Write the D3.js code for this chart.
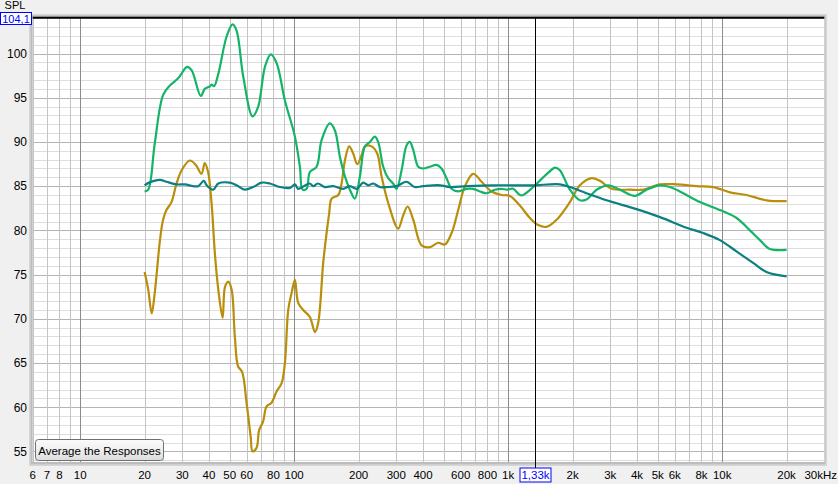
<!DOCTYPE html>
<html><head><meta charset="utf-8">
<script src="https://cdn.jsdelivr.net/npm/d3@7"></script>
<style>
html,body{margin:0;padding:0;background:#f0f0f0;}
svg{display:block;font-family:"Liberation Sans",Arial,sans-serif;}
</style></head>
<body>
<svg id="chart" width="838" height="484"></svg>
<script>
// ---------- DATA ----------
const xTickValues = [6,7,8,10,20,30,40,50,60,80,100,200,300,400,600,800,1000,2000,3000,4000,5000,6000,8000,10000,20000,30000];
const xTickLabels = ["6","7","8","10","20","30","40","50","60","80","100","200","300","400","600","800","1k","2k","3k","4k","5k","6k","8k","10k","20k","30kHz"];
const yTickValues = [55,60,65,70,75,80,85,90,95,100];
const cursorFreq = 1330, cursorFreqLabel = "1,33k";
const cursorSpl = 104.1, cursorSplLabel = "104,1";
const yTitle = "SPL";
const buttonLabel = "Average the Responses";

const tealResponse = [[20,85.1],[21,85.4],[23.6,85.7],[25.3,85.5],[28.2,85.2],[30.9,85.2],[33.7,85.0],[35.6,85.0],[37.8,85.6],[39,85.1],[41.8,84.6],[44.2,85.3],[50,85.4],[53.8,85.1],[58.8,84.6],[64.3,84.9],[70.4,85.4],[77,85.3],[85.7,84.9],[95.5,84.8],[100.8,85.2],[104.4,84.7],[118,85.3],[123,85.0],[129,85.3],[139,84.9],[152,85.0],[169,84.7],[182,85.0],[196,84.7],[210,85.4],[222,85.1],[234,85.3],[251,84.9],[270,84.9],[301,85.0],[335,85.5],[366,84.9],[400,85.0],[480,85.1],[534,84.9],[640,85.0],[850,85.1],[1055,85.1],[1310,85.1],[1745,85.2],[1940,84.9],[2320,84.2],[2880,83.4],[3980,82.4],[5120,81.5],[6820,80.3],[8150,79.7],[9750,78.9],[11700,77.6],[14000,76.3],[16100,75.3],[20000,74.8]];

const greenResponse = [[20,84.4],[20.8,84.6],[22.3,89.8],[24.4,95.3],[26.3,96.4],[28.7,97.2],[31.6,98.5],[33.2,98.1],[36.6,95.2],[38.2,96.0],[40.4,96.3],[41.1,96.5],[42.2,96.3],[44.2,97.7],[48.3,101.9],[51.5,103.3],[53.8,102.6],[57.8,97.4],[63.9,92.9],[67.9,94.0],[73,98.5],[77.8,99.9],[82.8,98.9],[90.5,94.7],[100.8,90.6],[106.3,87.2],[109.5,84.6],[114.3,84.7],[118.4,86.6],[127.3,87.2],[134.3,90.2],[146.9,92.1],[155,91.3],[163.6,88.3],[172.6,86.1],[182.1,84.6],[192.1,83.6],[202.8,86.1],[214,89.5],[225.8,90.0],[238.3,90.6],[246.9,90.0],[260.6,87.2],[275,85.9],[290,85.3],[301,84.7],[317.6,86.8],[335,89.6],[347,90.0],[360,89.1],[380,87.2],[400,87.0],[430,87.2],[463,87.4],[488,87.0],[515,85.9],[544,84.7],[584,84.4],[639,84.7],[686,84.7],[738,84.4],[792,84.2],[867,84.6],[932,84.7],[983,84.6],[1055,84.7],[1134,84.0],[1175,84.0],[1309,84.9],[1457,86.0],[1623,87.0],[1653,87.1],[1744,86.8],[1942,84.6],[2163,83.4],[2324,83.5],[2589,84.6],[2934,85.1],[3327,84.6],[3909,83.9],[4435,84.6],[5116,85.1],[5696,84.9],[6573,84.2],[7867,83.2],[9755,82.3],[11680,81.4],[13470,80.0],[15010,78.9],[16710,77.9],[20000,77.8]];

const goldResponse = [[20,75.3],[20.8,73.3],[21.6,70.6],[22.3,72.9],[23.6,78.9],[24.4,81.2],[25.3,82.3],[26.7,83.2],[28.2,85.3],[29.8,86.8],[32.5,87.9],[34.7,87.4],[36.9,86.4],[38.2,87.6],[39.6,86.6],[41.1,83.1],[42.6,77.4],[44.2,73.3],[46.3,70.1],[47.5,73.6],[49.2,74.2],[51,73.3],[52.8,68.0],[54.7,64.6],[57.1,64.0],[59.9,60.5],[62.6,56.7],[63.9,55.0],[66.7,55.4],[68.6,57.4],[71.6,58.4],[74.3,60.1],[78.4,60.5],[82.8,61.8],[87.3,62.7],[90.5,65.0],[93.8,71.0],[97.2,72.9],[100.8,74.4],[104.4,71.8],[110.2,71.0],[118.4,70.2],[125,68.5],[129.4,69.5],[136.6,76.3],[141.7,79.7],[145.7,81.9],[149.6,83.6],[160.6,84.0],[166.5,85.3],[172.6,87.9],[180.7,89.5],[188.7,88.7],[197,87.5],[206.5,88.5],[214,89.5],[230,89.5],[244.3,88.7],[256.1,86.1],[275,83.1],[306,80.2],[323,81.7],[339,82.7],[360,81.2],[394,78.3],[431,78.1],[471,78.6],[506,78.4],[544,79.7],[584,82.3],[628,85.0],[686,86.4],[751,85.5],[837,84.4],[932,84.0],[1019,83.9],[1134,82.8],[1263,81.4],[1381,80.6],[1512,80.4],[1684,81.2],[1942,83.2],[2163,85.1],[2453,85.9],[2683,85.6],[3043,84.7],[3705,84.6],[4274,84.6],[5116,85.2],[6122,85.2],[7593,85.0],[9078,84.9],[10860,84.3],[13000,84.0],[16130,83.4],[20000,83.3]];

// ---------- LAYOUT ----------
const L = 32.7, R = 824.3, T = 17.3, B = 462;
const svg = d3.select("#chart");
const x = d3.scaleLog().domain([6, 30000]).range([L, R]);
const y = d3.scaleLinear().domain([53.8, 104.1]).range([B, T]);

// background
svg.append("rect").attr("width",838).attr("height",484).attr("fill","#f0f0f0");
// sunken frame shadow
svg.append("rect").attr("x",29).attr("y",14).attr("width",798).attr("height",452).attr("fill","#d6d6d6");
svg.append("rect").attr("x",30.5).attr("y",15.3).attr("width",795).attr("height",449).attr("fill","#bdbdbd");
svg.append("rect").attr("x",L).attr("y",T).attr("width",R-L).attr("height",B-T).attr("fill","#ffffff");

const grid = svg.append("g");
// horizontal grid every 1 dB
const hLines = d3.range(54, 105, 1);
grid.selectAll("line.h").data(hLines).enter().append("line")
  .attr("x1",L).attr("x2",R)
  .attr("y1",d=>Math.round(y(d))+0.5).attr("y2",d=>Math.round(y(d))+0.5)
  .attr("stroke",d=> d%5===0 ? "#b4b4b4" : "#dedede").attr("stroke-width",1);
// vertical grid
const vLines = [];
[1,10,100,1000,10000].forEach(dec=>{ for(let m=1;m<10;m++){ const f=m*dec; if(f>=6 && f<30000) vLines.push(f);} });
grid.selectAll("line.v").data(vLines).enter().append("line")
  .attr("y1",T).attr("y2",B)
  .attr("x1",d=>Math.round(x(d))+0.5).attr("x2",d=>Math.round(x(d))+0.5)
  .attr("stroke",d=> [10,100,1000,10000].includes(d) ? "#8c8c8c" : "#c4c4c4").attr("stroke-width",1);

// curves
svg.append("clipPath").attr("id","clip").append("rect").attr("x",L).attr("y",T).attr("width",R-L).attr("height",B-T);
const line = d3.line().x(d=>x(d[0])).y(d=>y(d[1])).curve(d3.curveCatmullRom.alpha(0.5));
const curves = svg.append("g").attr("clip-path","url(#clip)");
[[goldResponse,"#b88e0a"],[greenResponse,"#14b468"],[tealResponse,"#0a8082"]].forEach(([data,col])=>{
  curves.append("path").datum(data).attr("d",line).attr("fill","none")
    .attr("stroke",col).attr("stroke-width",2.2).attr("stroke-linejoin","round");
});

// cursors
const cx = Math.round(x(cursorFreq))+0.5;
svg.append("line").attr("x1",cx).attr("x2",cx).attr("y1",T).attr("y2",468).attr("stroke","#000").attr("stroke-width",1);
svg.append("line").attr("x1",L).attr("x2",R).attr("y1",y(cursorSpl)+0.5).attr("y2",y(cursorSpl)+0.5).attr("stroke","#000").attr("stroke-width",2);

// y axis labels
svg.append("g").selectAll("text").data(yTickValues).enter().append("text")
  .attr("x",27).attr("y",d=>y(d)).attr("dy","0.36em").attr("text-anchor","end")
  .attr("font-size",12).attr("fill","#000").text(d=>d);
svg.append("text").attr("x",15).attr("y",9).attr("text-anchor","middle").attr("font-size",11).attr("fill","#000").text(yTitle);
// spl cursor label box
svg.append("rect").attr("x",0.5).attr("y",12.5).attr("width",31).attr("height",12).attr("fill","#fff").attr("stroke","#0000ff");
svg.append("text").attr("x",16).attr("y",18.7).attr("dy","0.36em").attr("text-anchor","middle").attr("font-size",11).attr("fill","#0000ff").text(cursorSplLabel);

// x axis labels
svg.append("g").selectAll("text").data(xTickValues).enter().append("text")
  .attr("x",(d,i)=> i===xTickValues.length-1 ? 837 : x(d)).attr("y",475).attr("dy","0.36em")
  .attr("text-anchor",(d,i)=> i===xTickValues.length-1 ? "end" : "middle")
  .attr("font-size",11.5).attr("fill","#000").text((d,i)=>xTickLabels[i]);
// freq cursor label box
svg.append("rect").attr("x",cx-15.5).attr("y",468).attr("width",31).attr("height",14).attr("fill","#fff").attr("stroke","#0000ff");
svg.append("text").attr("x",cx).attr("y",475).attr("dy","0.36em").attr("text-anchor","middle").attr("font-size",11.5).attr("fill","#0000ff").text(cursorFreqLabel);

// button
const defs = svg.append("defs");
const grad = defs.append("linearGradient").attr("id","btn").attr("x1",0).attr("x2",0).attr("y1",0).attr("y2",1);
grad.append("stop").attr("offset","0%").attr("stop-color","#fbfbfb");
grad.append("stop").attr("offset","50%").attr("stop-color","#efefef");
grad.append("stop").attr("offset","100%").attr("stop-color","#dcdcdc");
svg.append("rect").attr("x",35.5).attr("y",439.5).attr("width",128).attr("height",21).attr("rx",3)
  .attr("fill","url(#btn)").attr("stroke","#707070");
svg.append("text").attr("x",99.5).attr("y",450.5).attr("dy","0.36em").attr("text-anchor","middle")
  .attr("font-size",11.5).attr("fill","#000").text(buttonLabel);
</script>
</body></html>
